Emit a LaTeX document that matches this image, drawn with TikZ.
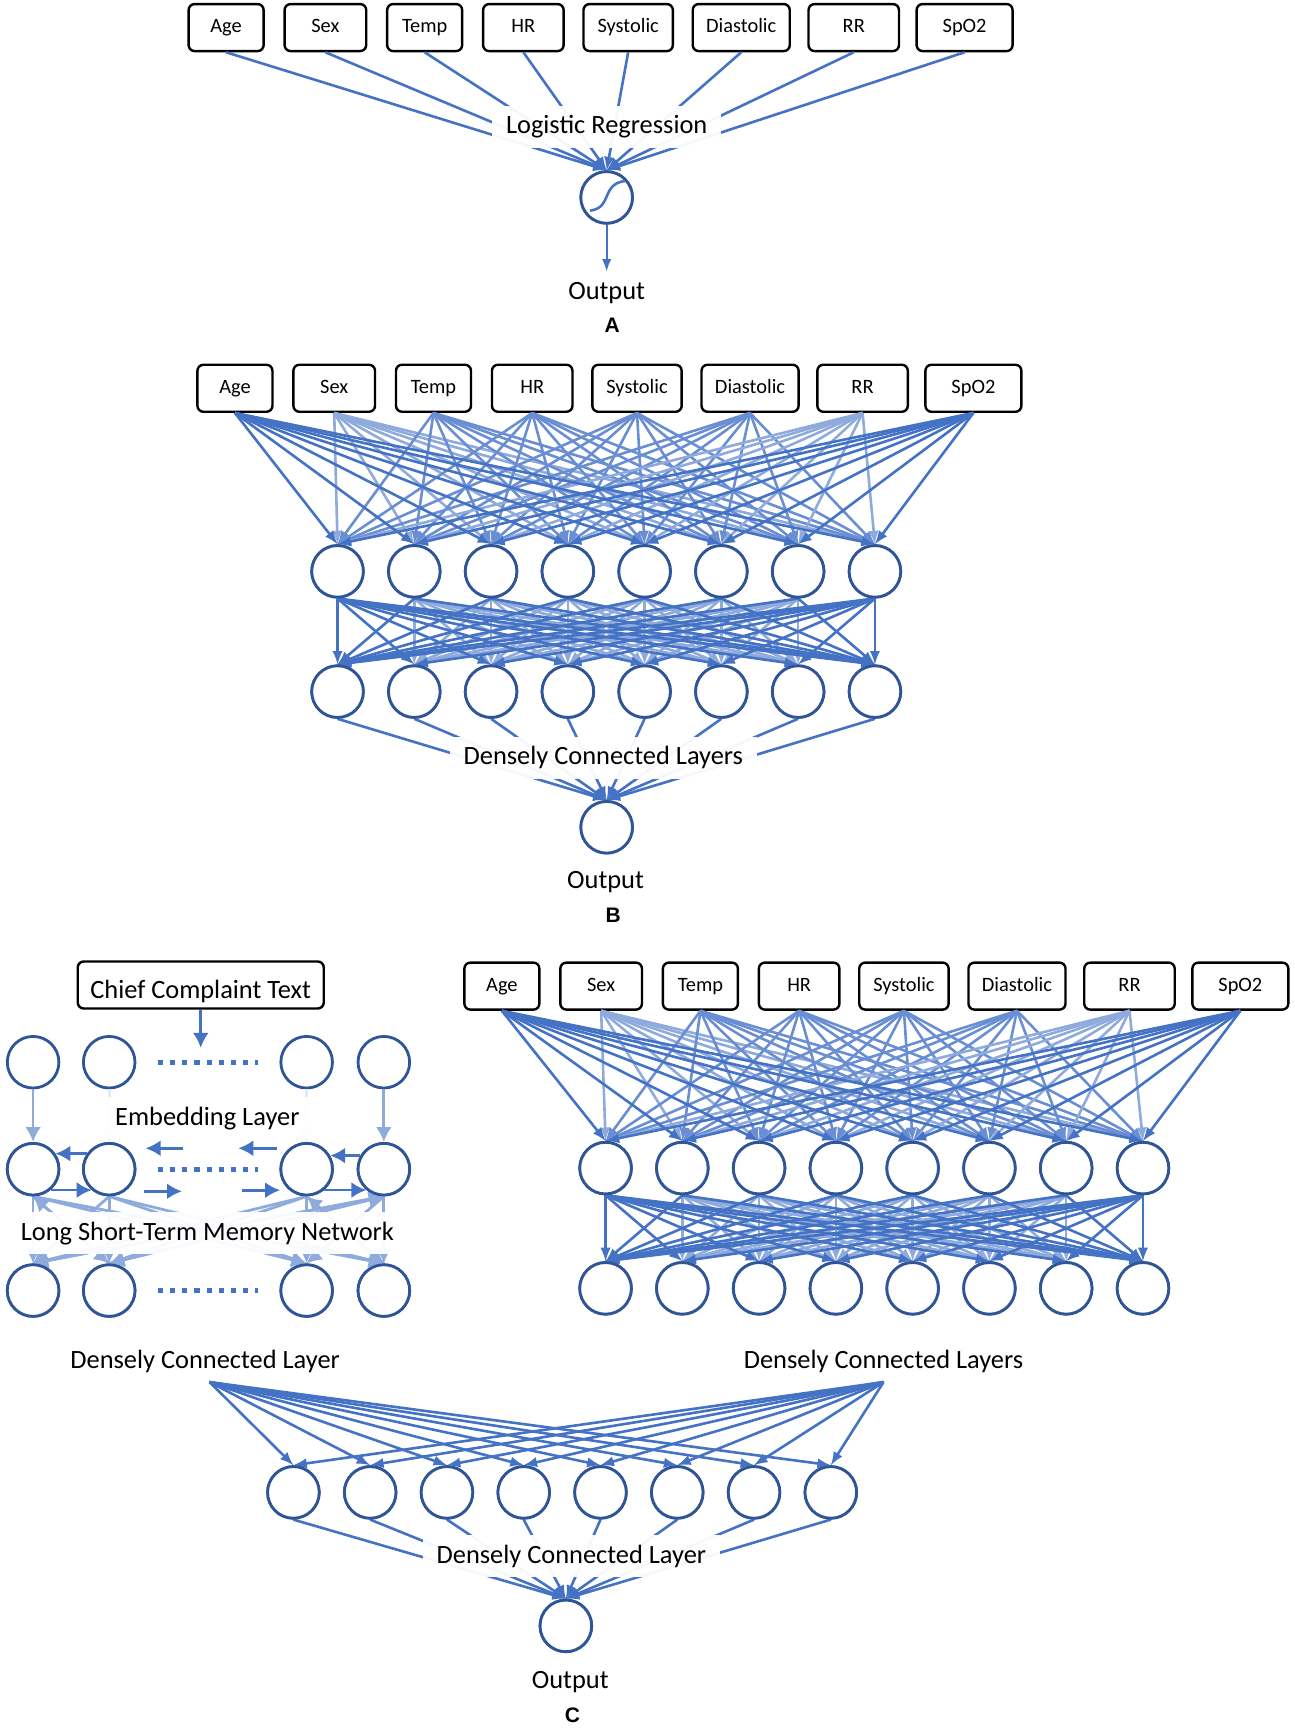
\documentclass[tikz,border=0pt]{standalone}
\usepackage{fontspec}
\setmainfont{Carlito}
\newfontfamily\panelfont{Liberation Sans}
\usetikzlibrary{arrows.meta}
\definecolor{nnblue}{HTML}{4472C4}
\definecolor{nnmid}{HTML}{6A8ED3}
\definecolor{nnlight}{HTML}{8FAADC}
\definecolor{nnedge}{HTML}{2F5597}
\tikzset{
  fbox/.style={draw=black,line width=1.2pt,rounded corners=3pt,fill=white,
    inner sep=0pt,text height=7.4pt,text depth=2pt,font=\fontsize{10.2}{12}\selectfont},
  neuron/.style={circle,draw=nnedge,line width=1.4pt,fill=white,
    minimum size=25.8pt,inner sep=0pt},
  lbl/.style={fill=white,fill opacity=0.95,text opacity=1,inner xsep=7pt,inner ysep=0pt,
    minimum height=21pt,font=\fontsize{13.2}{15}\selectfont},
  endlbl/.style={inner sep=5.5pt,font=\fontsize{13.2}{15}\selectfont},
  tag/.style={inner sep=0pt,font=\panelfont\bfseries\fontsize{10.5}{12}\selectfont},
  wire/.style={-latex,line width=1.3pt,color=nnblue},
  fatwire/.style={-{Latex[length=7.5pt,width=8pt]},line width=1.4pt,color=nnblue},
  dots/.style={color=nnblue,line width=2.6pt,dash pattern=on 2.6pt off 3.5pt},
}
% row of feature boxes: prefix, x offset, y
\newcommand{\featrow}[3]{
  \foreach \nm/\cx/\bw in {Age/205/68,Sex/295/74,Temp/385/68,HR/474.5/73,
    Systolic/569.5/81,Diastolic/672/88,RR/774/82,SpO2/874.5/87}{
    \node[fbox,minimum width=\bw*0.5515pt,minimum height=23.5pt]
      (#1\nm) at (\cx+#2,#3) {\nm};
  }
}
% row of eight neurons: prefix, first x, y
\newcommand{\cellrow}[3]{
  \foreach \i in {1,...,8}{
    \node[neuron] (#1\i) at ({#2+(\i-1)*69.6},#3) {};
  }
}
% all boxes to all cells, then cells to cells
\newcommand{\denseset}[3]{
  \foreach \nm/\col in {Sex/nnlight,Temp/nnmid,HR/nnmid,Systolic/nnmid,
    Diastolic/nnmid,RR/nnlight,Age/nnblue,SpO2/nnblue}{
    \foreach \i in {1,...,8}{
      \draw[wire,color=\col] (#1\nm.south) -- (#2\i.north);
    }
  }
  \foreach \s in {2,...,7}{
    \foreach \i in {2,...,7}{
      \draw[wire,color=nnlight] (#2\s.south) -- (#3\i.north);
    }
  }
  \foreach \s in {2,...,7}{
    \foreach \i in {1,8}{
      \draw[wire] (#2\s.south) -- (#3\i.north);
    }
  }
  \foreach \s in {1,8}{
    \foreach \i in {1,...,8}{
      \draw[wire] (#2\s.south) -- (#3\i.north);
    }
  }
}
\begin{document}
\begin{tikzpicture}[x=0.5515pt,y=-0.5515pt]
\useasboundingbox (0,0) rectangle (1173.2,1566.6);

% panel A
\featrow{a}{0}{25}
\node[neuron] (aout) at (550,179) {};
\foreach \nm in {Age,Sex,Temp,HR,Systolic,Diastolic,RR,SpO2}{
  \draw[wire] (a\nm.south) -- (aout.north);
}
\node[neuron] at (aout) {};
\draw[color=nnblue,line width=1.3pt] (535,191) .. controls (556,188) and (544,167) .. (567,164);
\node[lbl] (alog) at (550,115) {Logistic Regression};
\node[endlbl] (aend) at (550,266) {Output};
\draw[wire,line width=1.1pt] (aout.south) -- (aend.north);
\node[tag] (atag) at (555,295) {A};

% panel B
\featrow{b}{8}{352}
\cellrow{bp}{306}{518}
\cellrow{bq}{306}{627}
\denseset{b}{bp}{bq}
\node[neuron] (bout) at (550,750) {};
\foreach \i in {1,...,8}{
  \draw[wire] (bq\i.south) -- (bout.north);
}
\foreach \i in {1,...,8}{
  \node[neuron] at (bp\i) {};
  \node[neuron] at (bq\i) {};
}
\node[neuron] at (bout) {};
\node[lbl] (blayer) at (547,687) {Densely Connected Layers};
\node[endlbl] (bend) at (549,800) {Output};
\node[tag] (btag) at (556,830) {B};

% panel C, text branch
\node[fbox,font=\fontsize{13.2}{15}\selectfont,text height=13pt,text depth=0pt,minimum width=123pt,minimum height=23.5pt] (cc) at (182,893) {Chief Complaint Text};
\foreach \k/\cx in {1/30,2/99,3/278,4/348}{
  \node[neuron] (ce\k) at (\cx,963) {};
  \node[neuron] (cl\k) at (\cx,1060) {};
  \node[neuron] (cd\k) at (\cx,1170) {};
}
\coordinate (ccin) at (182,950);
\draw[fatwire] (cc.south) -- (ccin);
\foreach \cy in {963,1060,1170}{
  \draw[dots] (143,\cy) -- (234,\cy);
}
\foreach \k in {1,4}{
  \draw[fatwire,color=nnlight] (ce\k.south) -- (cl\k.north);
}
\foreach \k in {2,3}{
  \draw[fatwire,color=nnlight!25] (ce\k.south) -- (cl\k.north);
}
\foreach \s in {1,2,3,4}{
  \foreach \k in {1,2,3,4}{
    \draw[fatwire,color=nnlight] (cl\s.south) -- (cd\k.north);
  }
}
\foreach \s/\k in {1/4,2/4,2/1,4/3}{
  \draw[fatwire,color=nnlight] (cd\s.north) -- (cl\k.south);
}
\foreach \k in {1,2,3,4}{
  \node[neuron] at (cl\k) {};
  \node[neuron] at (cd\k) {};
}
\draw[fatwire] (cl2.145) -- (cl1.35);
\draw[fatwire] (cl1.-50) -- (cl2.230);
\draw[fatwire] (cl4.150) -- (cl3.30);
\draw[fatwire] (cl3.-50) -- (cl4.230);
\coordinate (ml1) at (132,1041); \coordinate (ml2) at (166,1041);
\coordinate (ml3) at (216,1041); \coordinate (ml4) at (251,1041);
\coordinate (mr1) at (131,1080); \coordinate (mr2) at (165,1080);
\coordinate (mr3) at (219,1079); \coordinate (mr4) at (254,1079);
\draw[fatwire] (ml2) -- (ml1);
\draw[fatwire] (ml4) -- (ml3);
\draw[fatwire] (mr1) -- (mr2);
\draw[fatwire] (mr3) -- (mr4);
\node[lbl] (cemb) at (188,1014) {Embedding Layer};
\node[lbl] (clstm) at (188,1118) {Long Short-Term Memory Network};

% panel C, vitals branch
\featrow{c}{250}{894}
\cellrow{cp}{549}{1059}
\cellrow{cq}{549}{1168}
\denseset{c}{cp}{cq}
\foreach \i in {1,...,8}{
  \node[neuron] at (cp\i) {};
  \node[neuron] at (cq\i) {};
}

% panel C, merge
\node[lbl,fill=none] (cltxt) at (186,1234) {Densely Connected Layer};
\node[lbl,fill=none] (crtxt) at (801,1234) {Densely Connected Layers};
\coordinate (clap) at (190,1253);
\coordinate (crap) at (801,1253);
\cellrow{cm}{266}{1353}
\node[neuron] (cout) at (513,1474) {};
\foreach \i in {1,...,8}{
  \draw[wire] (clap) -- (cm\i.north);
  \draw[wire] (crap) -- (cm\i.north);
  \draw[wire] (cm\i.south) -- (cout.north);
}
\foreach \i in {1,...,8}{
  \node[neuron] at (cm\i) {};
}
\node[neuron] at (cout) {};
\node[lbl] (cmerge) at (518,1411) {Densely Connected Layer};
\node[endlbl] (cend) at (517,1525) {Output};
\node[tag] (ctag) at (519,1555) {C};
\end{tikzpicture}
\end{document}
